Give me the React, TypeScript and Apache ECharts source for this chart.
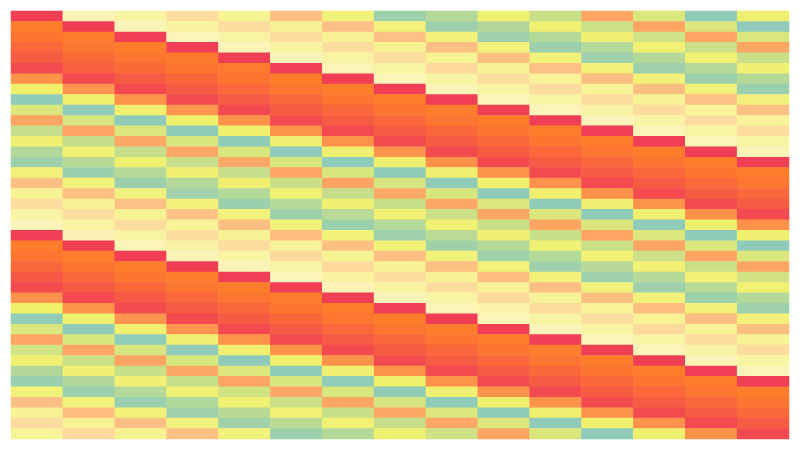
import React, { useEffect, useRef } from "react";
import * as echarts from "echarts";

const colLabels = ["C1","C2","C3","C4","C5","C6","C7","C8","C9","C10","C11","C12","C13","C14","C15"];
const rowLabels = Array.from({ length: 41 }, (_, i) => `R${i + 1}`);

const col0 = [130,110,113,118,122,127,99,40,0,29,91,21,42,14,7,46,80,53,70,56,60,130,110,113,118,123,127,99,40,1,29,91,25,42,14,5,46,80,53,70,54];
const col1 = [60,130,110,112,117,121,127,98,41,0,27,91,20,44,16,6,46,80,53,70,56,61,130,110,113,118,122,127,99,41,0,28,91,22,43,14,6,46,81,53,71];
const col2 = [56,60,130,110,113,117,122,127,99,41,0,29,90,20,42,15,6,47,80,53,70,56,60,130,110,113,118,123,127,98,42,1,27,91,22,43,15,5,46,80,52];
const col3 = [70,55,60,130,111,113,118,122,127,98,41,0,28,90,21,43,15,8,46,79,54,70,56,60,130,110,113,118,122,127,98,42,0,28,90,22,43,14,7,47,80];
const col4 = [53,70,56,60,130,111,113,118,122,127,99,41,0,28,90,21,42,15,6,46,81,53,70,56,60,130,110,113,118,122,127,99,42,0,29,91,25,43,16,8,46];
const col5 = [80,53,70,56,60,130,110,113,118,122,127,99,42,0,28,91,22,43,15,7,46,81,54,71,56,60,130,110,113,118,122,127,99,41,0,28,90,22,44,17,6];
const col6 = [46,80,53,70,56,60,130,110,113,118,122,127,99,42,0,28,91,20,43,16,6,46,80,53,71,55,60,130,110,113,118,122,127,99,42,1,28,91,22,44,15];
const col7 = [7,46,80,53,70,56,60,130,110,113,118,122,127,98,42,0,27,90,22,43,15,7,46,81,53,70,56,60,130,110,113,118,122,127,99,41,0,27,90,21,42];
const col8 = [15,6,46,80,53,71,56,60,130,110,113,118,122,127,99,42,0,28,90,23,43,17,8,46,81,53,70,56,60,130,110,113,118,122,127,99,42,0,29,90,24];
const col9 = [43,14,7,46,80,53,70,56,60,130,110,113,118,122,127,99,42,0,29,91,22,43,15,8,46,81,54,71,57,60,130,110,113,118,122,127,99,42,0,29,91];
const col10 = [22,43,15,6,46,80,54,70,56,60,130,110,113,118,122,127,99,42,0,29,91,22,44,15,7,46,81,54,70,56,60,130,110,113,118,122,127,99,42,0,29];
const col11 = [91,22,43,15,7,46,81,54,70,56,60,130,110,113,118,122,127,99,42,0,29,91,23,44,16,7,46,81,54,70,56,60,130,110,113,118,122,127,99,42,0];
const col12 = [29,91,24,43,15,7,46,81,53,70,56,60,130,110,113,118,122,127,99,42,0,29,91,23,44,15,7,46,81,53,71,56,60,130,110,113,118,122,127,99,42];
const col13 = [0,29,91,22,43,15,6,46,80,54,70,56,60,130,110,113,118,122,127,99,42,0,29,91,22,44,16,7,46,81,54,70,56,60,130,110,113,118,122,127,99];
const col14 = [42,0,29,91,22,43,15,6,47,80,54,70,56,60,130,110,113,118,122,127,99,42,0,29,91,25,43,15,7,46,81,53,70,56,60,130,110,113,118,122,127];

const columns = [col0,col1,col2,col3,col4,col5,col6,col7,col8,col9,col10,col11,col12,col13,col14];

const ramp = ["#8fcbb8","#a5d3a5","#c5de8c","#dde87a","#eef06a","#f5f285","#fcf3b8","#fddca0","#fdc084","#fda866","#fd9048","#fd7d2c","#f8623e","#f03f55"];

export default function App() {
  const ref = useRef<HTMLDivElement>(null);
  useEffect(() => {
    document.body.style.margin = "0";
    const chart = echarts.init(ref.current!, undefined, { renderer: "svg" });
    const data: number[][] = [];
    columns.forEach((vals, c) => vals.forEach((v, r) => data.push([c, r, v])));
    chart.setOption({
      animation: false,
      backgroundColor: "#ffffff",
      grid: { left: 11, right: 11, top: 11, bottom: 11 },
      xAxis: { type: "category", data: colLabels, show: false },
      yAxis: { type: "category", data: rowLabels, inverse: true, show: false },
      visualMap: { show: false, min: 0, max: 130, dimension: 2, inRange: { color: ramp } },
      series: [{ type: "heatmap", data, itemStyle: { borderWidth: 0 }, progressive: 0 }],
    });
    return () => chart.dispose();
  }, []);
  return <div ref={ref} style={{ position: "fixed", left: 0, top: 0, width: 800, height: 450 }} />;
}
